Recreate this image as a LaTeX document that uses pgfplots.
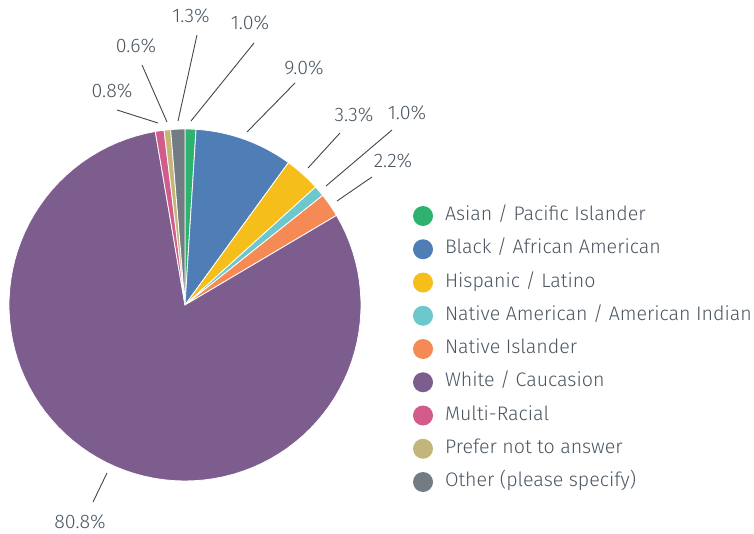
\documentclass[border=0pt]{standalone}
\usepackage{fontspec}
\setmainfont{Fira Sans Light}
\usepackage{pgfplots}
\usepackage{pgfplotstable}
\pgfplotsset{compat=1.18}
\definecolor{cAsian}{HTML}{2EB36E}
\definecolor{cBlack}{HTML}{4F7DB5}
\definecolor{cHisp}{HTML}{F5BE1A}
\definecolor{cNatAm}{HTML}{6CC8CB}
\definecolor{cNatIs}{HTML}{F58A54}
\definecolor{cWhite}{HTML}{7D5C8E}
\definecolor{cMulti}{HTML}{D25B8C}
\definecolor{cPref}{HTML}{C4B67A}
\definecolor{cOther}{HTML}{747C83}
\definecolor{txt}{HTML}{4B5661}
\definecolor{ln}{HTML}{3F4750}
\newcommand\lf{\fontsize{19.6}{22}\selectfont}

\pgfplotstableread{
pct col
1.0 cAsian
9.0 cBlack
3.3 cHisp
1.0 cNatAm
2.2 cNatIs
80.8 cWhite
0.8 cMulti
0.6 cPref
1.3 cOther
}\piedata

\begin{document}
\begin{tikzpicture}
\begin{axis}[name=ax, width=754pt, height=533pt, scale only axis,
  xmin=0, xmax=754, ymin=0, ymax=533, hide axis, clip=false,
  legend image code/.code={\fill[#1,draw=none] (10pt,0pt) circle (10pt);},
  legend cell align=left,
  legend style={at={(axis cs:413,327)}, anchor=north west, draw=none, fill=none,
    inner sep=0pt, outer sep=0pt, row sep=13.25pt,
    font=\lf, text=txt,
    nodes={inner sep=0pt, text height=14pt, text depth=5pt},
    /tikz/every odd column/.append style={column sep=12pt}},
  legend entries={Asian / Pacific Islander, Black / African American, Hispanic / Latino,
    Native American / American Indian, Native Islander, White / Caucasion,
    Multi-Racial, Prefer not to answer, Other (please specify)},
]
\def\startang{90}
\pgfplotsforeachungrouped \i in {0,...,8}{%
  \pgfplotstablegetelem{\i}{pct}\of\piedata \let\pv\pgfplotsretval
  \pgfplotstablegetelem{\i}{col}\of\piedata \let\pc\pgfplotsretval
  \pgfmathsetmacro\endang{\startang-3.6*\pv}%
  \edef\cmd{\noexpand\addplot[fill=\pc, draw=white, line width=0.8pt, domain=\endang:\startang, samples=90]
    ({185+176*cos(x)},{228+176*sin(x)}) -- (axis cs:185,228) -- cycle;}%
  \cmd
  \global\let\startang\endang
}
% leader lines
\draw[ln, line width=0.9pt] (axis cs:117,423) -- (axis cs:158,410);
\draw[ln, line width=0.9pt] (axis cs:142,468) -- (axis cs:167,411);
\draw[ln, line width=0.9pt] (axis cs:197,498) -- (axis cs:178,412);
\draw[ln, line width=0.9pt] (axis cs:254,490) -- (axis cs:191,412);
\draw[ln, line width=0.9pt] (axis cs:295,450) -- (axis cs:247,401);
\draw[ln, line width=0.9pt] (axis cs:340,400) -- (axis cs:308,365);
\draw[ln, line width=0.9pt] (axis cs:392,403) -- (axis cs:326,347);
\draw[ln, line width=0.9pt] (axis cs:372,356) -- (axis cs:337,332);
\draw[ln, line width=0.9pt] (axis cs:107,60) -- (axis cs:93,31);
% labels
\tikzset{pl/.style={anchor=base, inner sep=0pt, font=\lf, text=txt}}
\node[pl] at (axis cs:112,435) {0.8\%};
\node[pl] at (axis cs:136,480) {0.6\%};
\node[pl] at (axis cs:191,510) {1.3\%};
\node[pl] at (axis cs:250,503) {1.0\%};
\node[pl] at (axis cs:304,458) {9.0\%};
\node[pl] at (axis cs:354,411) {3.3\%};
\node[pl] at (axis cs:407,413) {1.0\%};
\node[pl] at (axis cs:393,365) {2.2\%};
\node[pl] at (axis cs:80,5) {80.8\%};
\end{axis}
\pgfresetboundingbox
\path[use as bounding box] (ax.south west) rectangle (ax.north east);
\end{tikzpicture}
\end{document}
